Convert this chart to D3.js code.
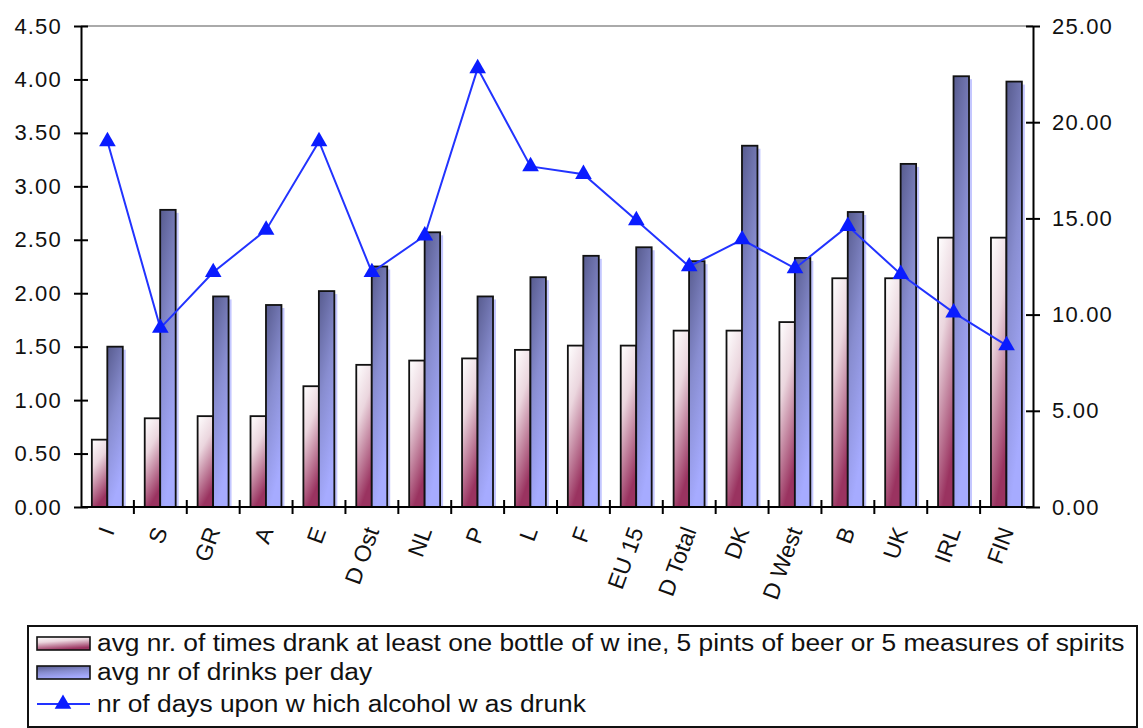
<!DOCTYPE html>
<html>
<head>
<meta charset="utf-8">
<script src="https://cdnjs.cloudflare.com/ajax/libs/d3/7.8.5/d3.min.js"></script>
<style>
  html, body { margin: 0; padding: 0; background: #fff; }
  svg text { font-family: "Liberation Sans", Arial, sans-serif; fill: #111; }
</style>
</head>
<body>
<div class="chart"></div>
<script>
const categories = ['I', 'S', 'GR', 'A', 'E', 'D Ost', 'NL', 'P', 'L', 'F', 'EU 15', 'D Total', 'DK', 'D West', 'B', 'UK', 'IRL', 'FIN'];
const timesDrank = [0.63, 0.83, 0.85, 0.85, 1.13, 1.33, 1.37, 1.39, 1.47, 1.51, 1.51, 1.65, 1.65, 1.73, 2.14, 2.14, 2.52, 2.52];
const drinksPerDay = [1.50, 2.78, 1.97, 1.89, 2.02, 2.25, 2.57, 1.97, 2.15, 2.35, 2.43, 2.30, 3.38, 2.33, 2.76, 3.21, 4.03, 3.98];
const daysDrunk = [19.0, 9.3, 12.2, 14.4, 19.0, 12.2, 14.1, 22.8, 17.7, 17.3, 14.9, 12.5, 13.9, 12.4, 14.6, 12.1, 10.1, 8.4];
const leftTicks = [0, 0.5, 1, 1.5, 2, 2.5, 3, 3.5, 4, 4.5];
const rightTicks = [0, 5, 10, 15, 20, 25];
const legendLabels = [
  'avg nr. of times drank at least one bottle of w ine, 5 pints of beer or 5 measures of spirits',
  'avg nr of drinks per day',
  'nr of days upon w hich alcohol w as drunk'
];

function app() {
  const WIDTH = 1143;
  const HEIGHT = 728;
  const LEFT = 81;
  const RIGHT = 1033;
  const TOP = 26;
  const BOTTOM = 507;
  const LINE_COLOR = '#2233ff';

  let svg = d3.select('.chart')
    .append('svg')
    .attr('width', WIDTH)
    .attr('height', HEIGHT);

  let defs = svg.append('defs');

  let pink = defs.append('linearGradient')
    .attr('id', 'pink')
    .attr('x1', 0).attr('y1', 0).attr('x2', 0.3).attr('y2', 1);
  pink.append('stop').attr('offset', 0).attr('stop-color', '#ffffff');
  pink.append('stop').attr('offset', 0.4).attr('stop-color', '#ebd6de');
  pink.append('stop').attr('offset', 1).attr('stop-color', '#9a3360');

  let blue = defs.append('linearGradient')
    .attr('id', 'blue')
    .attr('x1', 0).attr('y1', 0).attr('x2', 0.3).attr('y2', 1);
  blue.append('stop').attr('offset', 0).attr('stop-color', '#575b8e');
  blue.append('stop').attr('offset', 0.5).attr('stop-color', '#888dd0');
  blue.append('stop').attr('offset', 1).attr('stop-color', '#a6abff');

  let x = d3.scaleBand()
    .domain(categories)
    .range([LEFT, RIGHT])
    .paddingInner(0)
    .paddingOuter(0);

  let xSeries = d3.scaleBand()
    .domain(['times', 'drinks'])
    .range([x.bandwidth() * 0.205, x.bandwidth() * 0.79]);

  let yLeft = d3.scaleLinear().domain([0, 4.5]).range([BOTTOM, TOP]);
  let yRight = d3.scaleLinear().domain([0, 25]).range([BOTTOM, TOP]);

  // top border line
  svg.append('line')
    .attr('x1', LEFT).attr('x2', RIGHT)
    .attr('y1', TOP).attr('y2', TOP)
    .attr('stroke', '#aaaaaa')
    .attr('stroke-width', 2);

  // bars
  let groups = svg.selectAll('g.group')
    .data(categories)
    .enter()
    .append('g')
    .attr('class', 'group')
    .attr('transform', (d) => `translate(${x(d)},0)`);

  groups.append('rect')
    .attr('x', xSeries('drinks') + 3)
    .attr('y', (d, i) => yLeft(drinksPerDay[i]) + 3)
    .attr('width', xSeries.bandwidth())
    .attr('height', (d, i) => BOTTOM - yLeft(drinksPerDay[i]) - 3)
    .attr('fill', '#c4c7ff');

  groups.append('rect')
    .attr('x', xSeries('times'))
    .attr('y', (d, i) => yLeft(timesDrank[i]))
    .attr('width', xSeries.bandwidth())
    .attr('height', (d, i) => BOTTOM - yLeft(timesDrank[i]))
    .attr('fill', 'url(#pink)')
    .attr('stroke', '#111')
    .attr('stroke-width', 1.8);

  groups.append('rect')
    .attr('x', xSeries('drinks'))
    .attr('y', (d, i) => yLeft(drinksPerDay[i]))
    .attr('width', xSeries.bandwidth())
    .attr('height', (d, i) => BOTTOM - yLeft(drinksPerDay[i]))
    .attr('fill', 'url(#blue)')
    .attr('stroke', '#111')
    .attr('stroke-width', 1.8);

  // axes
  let leftAxis = d3.axisLeft(yLeft)
    .tickValues(leftTicks)
    .tickFormat(d3.format('.2f'))
    .tickSizeInner(7)
    .tickSizeOuter(0)
    .tickPadding(12);

  let rightAxis = d3.axisRight(yRight)
    .tickValues(rightTicks)
    .tickFormat(d3.format('.2f'))
    .tickSizeInner(7)
    .tickSizeOuter(0)
    .tickPadding(12);

  let styleAxis = (g, dir) => {
    g.select('.domain').attr('stroke', '#000').attr('stroke-width', 2);
    g.selectAll('.tick line')
      .attr('stroke', '#000')
      .attr('stroke-width', 2)
      .attr('x1', -dir * 7);
    g.selectAll('.tick text')
      .attr('font-size', 22)
      .attr('letter-spacing', 1.2)
      .attr('font-family', '"Liberation Sans", Arial, sans-serif')
      .attr('fill', '#222');
  };

  svg.append('g')
    .attr('transform', `translate(${LEFT},0)`)
    .call(leftAxis)
    .call((g) => styleAxis(g, -1));

  svg.append('g')
    .attr('transform', `translate(${RIGHT},0)`)
    .call(rightAxis)
    .call((g) => styleAxis(g, 1));

  // x axis
  svg.append('line')
    .attr('x1', LEFT).attr('x2', RIGHT)
    .attr('y1', BOTTOM).attr('y2', BOTTOM)
    .attr('stroke', '#000')
    .attr('stroke-width', 2);

  svg.selectAll('line.xtick')
    .data(categories.slice(1))
    .enter()
    .append('line')
    .attr('class', 'xtick')
    .attr('x1', (d) => x(d)).attr('x2', (d) => x(d))
    .attr('y1', BOTTOM - 7).attr('y2', BOTTOM + 7)
    .attr('stroke', '#000')
    .attr('stroke-width', 2);

  svg.selectAll('text.xlabel')
    .data(categories)
    .enter()
    .append('text')
    .attr('class', 'xlabel')
    .attr('transform', (d) => `translate(${x(d) + x.bandwidth() / 2},528) rotate(-70)`)
    .attr('text-anchor', 'end')
    .attr('dy', '0.35em')
    .attr('font-size', 23)
    .text((d) => d);

  // line series
  let cx = (d, i) => x(categories[i]) + x.bandwidth() / 2;

  let line = d3.line()
    .x(cx)
    .y((d) => yRight(d));

  svg.append('path')
    .datum(daysDrunk)
    .attr('d', line)
    .attr('fill', 'none')
    .attr('stroke', LINE_COLOR)
    .attr('stroke-width', 2);

  let triangle = d3.symbol().type(d3.symbolTriangle).size(120);

  svg.selectAll('path.marker')
    .data(daysDrunk)
    .enter()
    .append('path')
    .attr('class', 'marker')
    .attr('d', triangle)
    .attr('transform', (d, i) => `translate(${cx(d, i)},${yRight(d)})`)
    .attr('fill', '#0a1cff');

  // legend
  let legend = svg.append('g');

  legend.append('rect')
    .attr('x', 28).attr('y', 626)
    .attr('width', 1109).attr('height', 101)
    .attr('fill', '#fff')
    .attr('stroke', '#111')
    .attr('stroke-width', 2);

  let rowY = [643, 672, 704];

  legend.append('rect')
    .attr('x', 37).attr('y', rowY[0] - 6)
    .attr('width', 53).attr('height', 13)
    .attr('fill', 'url(#pink)')
    .attr('stroke', '#111').attr('stroke-width', 1.6);

  legend.append('rect')
    .attr('x', 37).attr('y', rowY[1] - 6)
    .attr('width', 53).attr('height', 13)
    .attr('fill', 'url(#blue)')
    .attr('stroke', '#111').attr('stroke-width', 1.6);

  legend.append('line')
    .attr('x1', 37).attr('x2', 90)
    .attr('y1', rowY[2]).attr('y2', rowY[2])
    .attr('stroke', LINE_COLOR).attr('stroke-width', 2);

  legend.append('path')
    .attr('d', triangle)
    .attr('transform', `translate(63,${rowY[2]})`)
    .attr('fill', '#0a1cff');

  legend.selectAll('text')
    .data(legendLabels)
    .enter()
    .append('text')
    .attr('transform', (d, i) => `translate(97,${rowY[i]}) scale(1.145,1)`)
    .attr('dy', '0.35em')
    .attr('font-size', 23)
    .text((d) => d);
}

app();
</script>
</body>
</html>
